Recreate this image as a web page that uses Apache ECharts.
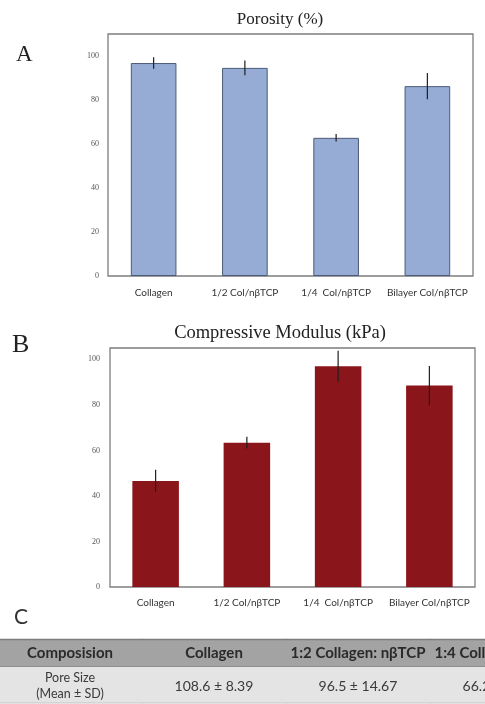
<!DOCTYPE html>
<html>
<head>
<meta charset="utf-8">
<script src="https://cdn.jsdelivr.net/npm/echarts@6/dist/echarts.min.js"></script>
<style>
html,body{margin:0;padding:0;background:#fff;}
#c{width:485px;height:704px;}
</style>
</head>
<body>
<div id="c"></div>
<script>
// ---- data ----
var categoriesA = ['Collagen', '1/2 Col/nβTCP', '1/4  Col/nβTCP', 'Bilayer Col/nβTCP'];
var categoriesB = ['Collagen', '1/2 Col/nβTCP', '1/4  Col/nβTCP', 'Bilayer Col/nβTCP'];
var porosity = [96.8, 94.6, 62.8, 86.3];
var porosityErr = [2.6, 3.4, 1.7, 6.0];
var modulus = [46.6, 63.4, 97.0, 88.5];
var modulusErr = [4.9, 2.6, 6.8, 8.6];
var tableColumns = ['Composision', 'Collagen', '1:2 Collagen: nβTCP', '1:4 Collagen: nβTCP'];
var tableRows = ['header', 'pore'];
var poreSizeRowLabel = 'Pore Size\n(Mean ± SD)';
var poreSize = ['108.6 ± 8.39', '96.5 ± 14.67', '66.2 ± 10.25']; // last value is cut off in the source; digits after "66." estimated

// ---- build ----
var chart = echarts.init(document.getElementById('c'), null, {renderer: 'canvas'});

function errData(vals, errs) {
  return vals.map(function (v, i) { return [i, v, errs[i]]; });
}
function errRender(params, api) {
  var i = api.value(0), v = api.value(1), e = api.value(2);
  var top = api.coord([i, v + e]);
  var bot = api.coord([i, v - e]);
  return {
    type: 'line',
    shape: {x1: top[0], y1: top[1], x2: bot[0], y2: bot[1]},
    style: {stroke: '#1f1f1f', lineWidth: 1.2}
  };
}

var tableData = [];
tableColumns.forEach(function (c, i) { tableData.push([i, 0, c]); });
tableData.push([0, 1, poreSizeRowLabel]);
poreSize.forEach(function (p, i) { tableData.push([i + 1, 1, p]); });

function tableRender(params, api) {
  var col = api.value(0), row = api.value(1);
  var txt = tableData[params.dataIndex][2];
  var c = api.coord([col, row]);
  var s = api.size([1, 1]);
  var w = s[0], h = s[1];
  var x0 = c[0] - w / 2, y0, hh;
  if (row === 0) { y0 = c[1] - h / 2; hh = h - 4; }
  else { y0 = c[1] - h / 2 - 4; hh = h + 4; }
  var children = [{
    type: 'rect',
    shape: {x: x0, y: y0, width: w + 1, height: hh},
    style: {fill: row === 0 ? '#a3a3a3' : '#e4e4e4'}
  }];
  if (row === 0) {
    children.push({type: 'line', shape: {x1: x0, y1: y0 + 0.5, x2: x0 + w + 1, y2: y0 + 0.5}, style: {stroke: '#7c7c7c', lineWidth: 1.5}});
    children.push({type: 'line', shape: {x1: x0, y1: y0 + hh, x2: x0 + w + 1, y2: y0 + hh}, style: {stroke: '#8a8a8a', lineWidth: 1.5}});
  } else {
    children.push({type: 'line', shape: {x1: x0, y1: y0 + hh, x2: x0 + w + 1, y2: y0 + hh}, style: {stroke: '#c4c4c4', lineWidth: 1}});
  }
  var isLabel = (row === 1 && col === 0);
  children.push({
    type: 'text',
    style: {
      x: c[0], y: y0 + hh / 2 + (row === 0 ? 0 : 1),
      text: txt,
      align: 'center', verticalAlign: 'middle',
      fill: row === 0 ? '#2a2a2a' : '#3a3a3a',
      font: (row === 0 ? 'bold 15px' : (isLabel ? '12.5px' : '14px')) + ' Lato, "Open Sans", sans-serif',
      lineHeight: isLabel ? 16 : 17
    }
  });
  return {type: 'group', children: children};
}

var yLabel = {fontFamily: '"Liberation Serif", "DejaVu Serif", serif', fontSize: 8, color: '#555', showMaxLabel: false};
var xLabel = {fontFamily: 'Lato, "Open Sans", sans-serif', fontSize: 10, color: '#333', interval: 0};

var option = {
  animation: false,
  backgroundColor: '#fff',
  title: [
    {text: 'Porosity (%)', left: 275, top: 6, textAlign: 'center',
     textStyle: {fontFamily: '"Liberation Serif", serif', fontSize: 17, fontWeight: 'normal', color: '#222'}},
    {text: 'Compressive Modulus (kPa)', left: 275, top: 319, textAlign: 'center',
     textStyle: {fontFamily: '"Liberation Serif", serif', fontSize: 18.5, fontWeight: 'normal', color: '#222'}},
    {text: 'A', left: 11, top: 38, textStyle: {fontFamily: '"Liberation Serif", serif', fontSize: 23, fontWeight: 'normal', color: '#222'}},
    {text: 'B', left: 7, top: 327, textStyle: {fontFamily: '"Liberation Serif", serif', fontSize: 26, fontWeight: 'normal', color: '#222'}},
    {text: 'C', left: 9, top: 602, textStyle: {fontFamily: 'Lato, "Open Sans", sans-serif', fontSize: 21, fontWeight: 'normal', color: '#333'}}
  ],
  grid: [
    {left: 108, top: 34, width: 365, height: 242, show: true, borderColor: '#7d7d7d', borderWidth: 1.3, containLabel: false},
    {left: 110, top: 348, width: 365, height: 239, show: true, borderColor: '#7d7d7d', borderWidth: 1.3, containLabel: false},
    {left: 0, right: 0, top: 639, height: 64, show: false}
  ],
  xAxis: [
    {type: 'category', gridIndex: 0, data: categoriesA, axisTick: {show: false}, axisLine: {show: false},
     axisLabel: Object.assign({margin: 12}, xLabel)},
    {type: 'category', gridIndex: 1, data: categoriesB, axisTick: {show: false}, axisLine: {show: false},
     axisLabel: Object.assign({margin: 11}, xLabel)},
    {type: 'value', gridIndex: 2, min: -0.486, max: 2.882, show: false, splitLine: {show: false}}
  ],
  yAxis: [
    {type: 'value', gridIndex: 0, min: 0, max: 110, interval: 20, axisLine: {show: false}, axisTick: {show: false},
     splitLine: {show: false}, axisLabel: Object.assign({margin: 9}, yLabel)},
    {type: 'value', gridIndex: 1, min: 0, max: 105, interval: 20, axisLine: {show: false}, axisTick: {show: false},
     splitLine: {show: false}, axisLabel: Object.assign({margin: 10}, yLabel)},
    {type: 'category', gridIndex: 2, data: tableRows, inverse: true, show: false}
  ],
  series: [
    {type: 'bar', xAxisIndex: 0, yAxisIndex: 0, data: porosity, barWidth: '50%',
     itemStyle: {color: '#96acd5', borderColor: '#4a5a78', borderWidth: 1}},
    {type: 'custom', xAxisIndex: 0, yAxisIndex: 0, data: errData(porosity, porosityErr), renderItem: errRender, z: 5},
    {type: 'bar', xAxisIndex: 1, yAxisIndex: 1, data: modulus, barWidth: '51%',
     itemStyle: {color: '#8a151a'}},
    {type: 'custom', xAxisIndex: 1, yAxisIndex: 1, data: errData(modulus, modulusErr), renderItem: errRender, z: 5},
    {type: 'custom', xAxisIndex: 2, yAxisIndex: 2, data: tableData.map(function (d) { return [d[0], d[1]]; }),
     renderItem: tableRender, clip: false}
  ]
};
chart.setOption(option);
</script>
</body>
</html>
